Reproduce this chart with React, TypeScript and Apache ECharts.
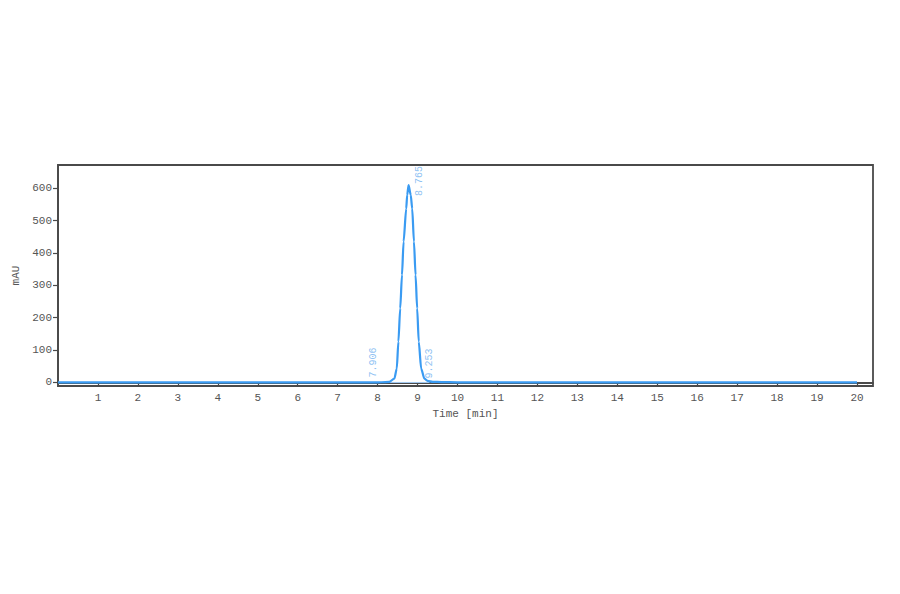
import { useEffect, useRef } from "react";
import * as echarts from "echarts";

// chromatogram trace: [time min, mAU]
const TRACE: [number, number][] = [
  [0, 0], [2, 0], [4, 0], [6, 0], [7, 0.2], [7.9, 0.4], [8.1, 0.6],
  [8.29, 1.5], [8.42, 12], [8.48, 43], [8.52, 126], [8.566, 229],
  [8.61, 332], [8.65, 435], [8.716, 537], [8.74, 579], [8.775, 610],
  [8.83, 579], [8.866, 537], [8.91, 435], [8.95, 332], [8.99, 229],
  [9.03, 126], [9.09, 43], [9.17, 12], [9.25, 5], [9.38, 2],
  [9.6, 1], [10, 0.5], [12, 0.2], [15, 0], [20, 0]
];

// integration baseline under the peak
const BASELINE: [number, number][] = [[8.3, 0], [9.3, 0]];

// offsets are in the label's rotated frame: [up, right]
const PEAKS = [
  { time: 7.906, value: 0, text: "7.906", offset: [5, 0] },
  { time: 8.765, value: 610, text: "8.765", offset: [-11, 11] },
  { time: 9.253, value: 0, text: "9.253", offset: [4, 2] }
];

const Y_TICKS = [0, 100, 200, 300, 400, 500, 600];
const X_TICKS = [1, 2, 3, 4, 5, 6, 7, 8, 9, 10, 11, 12, 13, 14, 15, 16, 17, 18, 19, 20];

const FONT = "'Liberation Mono', monospace";
const TEXT_COLOR = "#555";
const AXIS_COLOR = "#4a4a4a";
const LINE_COLOR = "#3a9bf2";
const LABEL_COLOR = "#72b2f0";

export default function App() {
  const hostRef = useRef<HTMLDivElement>(null);

  useEffect(() => {
    const host = hostRef.current;
    if (host === null) return;
    const chart = echarts.init(host, undefined, { renderer: "svg" });
    chart.setOption({
      animation: false,
      backgroundColor: "#fff",
      grid: {
        left: 58,
        right: 27,
        top: 165,
        bottom: 208,
        show: true,
        borderColor: AXIS_COLOR,
        borderWidth: 1.8,
        backgroundColor: "transparent"
      },
      xAxis: {
        type: "value",
        min: 0,
        max: 20.4,
        name: "Time [min]",
        nameLocation: "middle",
        nameGap: 22,
        nameTextStyle: { color: TEXT_COLOR, fontFamily: FONT, fontSize: 11 },
        axisLine: { show: true, lineStyle: { color: AXIS_COLOR, width: 1.8 } },
        axisTick: {
          show: true,
          length: 4,
          customValues: X_TICKS,
          lineStyle: { color: AXIS_COLOR, width: 1.2 }
        },
        axisLabel: {
          customValues: X_TICKS,
          color: TEXT_COLOR,
          fontFamily: FONT,
          fontSize: 11,
          margin: 6
        },
        splitLine: { show: false }
      },
      yAxis: {
        type: "value",
        min: -11,
        max: 672,
        name: "mAU",
        nameLocation: "middle",
        nameGap: 36,
        nameTextStyle: { color: TEXT_COLOR, fontFamily: FONT, fontSize: 11 },
        axisLine: { show: true, lineStyle: { color: AXIS_COLOR, width: 1.8 } },
        axisTick: {
          show: true,
          length: 5,
          customValues: Y_TICKS,
          lineStyle: { color: AXIS_COLOR, width: 1.2 }
        },
        axisLabel: {
          customValues: Y_TICKS,
          color: TEXT_COLOR,
          fontFamily: FONT,
          fontSize: 11,
          margin: 6
        },
        splitLine: { show: false }
      },
      series: [
        {
          type: "line",
          data: BASELINE,
          showSymbol: false,
          silent: true,
          lineStyle: { color: "#a9d0f7", width: 1 },
          z: 1
        },
        {
          type: "line",
          data: TRACE,
          showSymbol: false,
          smooth: 0.25,
          smoothMonotone: "x",
          lineStyle: { color: LINE_COLOR, width: 2.2 },
          z: 2
        },
        {
          type: "scatter",
          symbolSize: 0,
          silent: true,
          z: 3,
          data: PEAKS.map((peak) => ({
            value: [peak.time, peak.value],
            label: {
              show: true,
              formatter: peak.text,
              position: "inside",
              offset: peak.offset,
              rotate: 90,
              align: "left",
              verticalAlign: "middle",
              color: LABEL_COLOR,
              fontFamily: FONT,
              fontSize: 10
            }
          }))
        }
      ]
    });
    return () => chart.dispose();
  }, []);

  return (
    <div
      ref={hostRef}
      style={{ position: "absolute", left: 0, top: 0, width: 900, height: 594, background: "#fff" }}
    />
  );
}
